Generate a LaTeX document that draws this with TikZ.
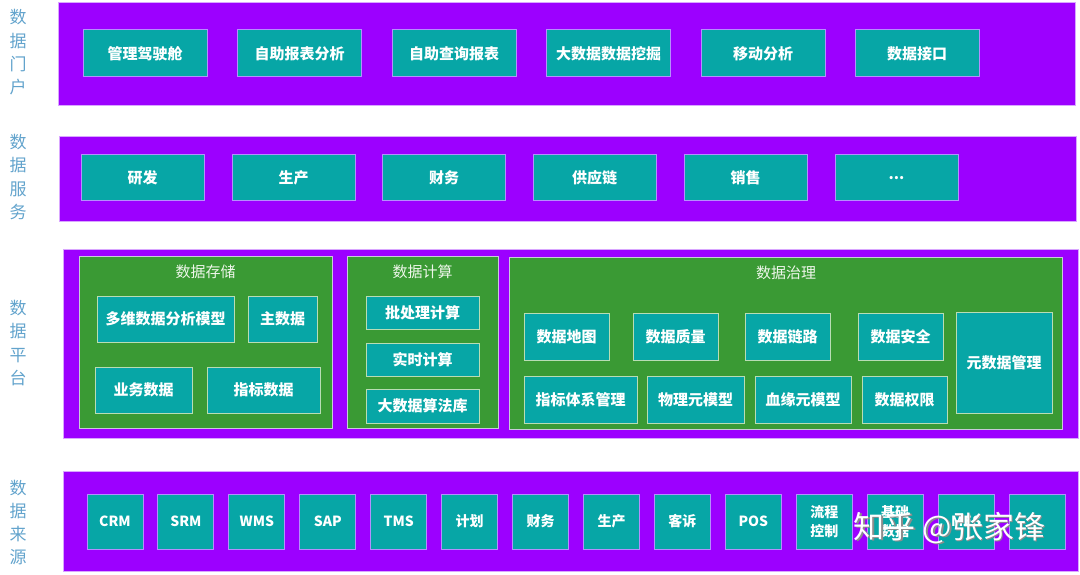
\documentclass[tikz,border=0pt]{standalone}
\usepackage{fontspec}
\setmainfont{Noto Sans CJK SC}
\definecolor{bandviolet}{HTML}{9C00FF}
\definecolor{bandedge}{HTML}{D9A6FF}
\definecolor{panelgreen}{HTML}{3A9A34}
\definecolor{paneledge}{HTML}{C9C9DA}
\definecolor{cellteal}{HTML}{07A6A6}
\definecolor{celledge}{HTML}{B58EFF}
\definecolor{greenedge}{HTML}{B9DDB4}
\definecolor{sideblue}{HTML}{62A3CC}
\definecolor{titlewhite}{HTML}{EEF6EA}
\tikzset{
	band/.style={fill=bandviolet, draw=bandedge, line width=0.8pt},
	panel/.style={fill=panelgreen, draw=paneledge, line width=1pt},
	cell/.style={fill=cellteal, draw=celledge, line width=1pt, text=white, inner sep=0pt, align=center, font=\bfseries\fontsize{15}{18}\selectfont},
	portalcell/.style={cell, minimum width=124, minimum height=47},
	servicecell/.style={cell, minimum width=123, minimum height=46},
	greencell/.style={cell, draw=greenedge},
	srccell/.style={cell, minimum width=56, minimum height=55, font=\bfseries\fontsize{14}{19}\selectfont},
	side/.style={text=sideblue, align=center, font=\fontsize{17}{23.3}\selectfont},
	paneltitle/.style={text=titlewhite, font=\fontsize{15}{18}\selectfont},
	wmark/.style={font=\fontsize{31}{34}\selectfont}
}
\begin{document}
\begin{tikzpicture}[x=1pt, y=-1pt]
	\useasboundingbox (0,0) rectangle (1080,575);
	
	\node[side] (lportal) at (18,52.5) {数\\据\\门\\户};
	\node[side] (lservice) at (18,177) {数\\据\\服\\务};
	\node[side] (lplatform) at (18,343) {数\\据\\平\\台};
	\node[side] (lsource) at (18,522.5) {数\\据\\来\\源};
	
	\filldraw[band] (58,2) rectangle (1075,105);
	\filldraw[band] (59,136) rectangle (1076,221);
	\filldraw[band] (63,249) rectangle (1078,438);
	\filldraw[band] (63,471) rectangle (1078,571);
	
	\node[portalcell] (cockpit) at (145,53.5) {管理驾驶舱};
	\node[portalcell] (selfrep) at (299.5,53.5) {自助报表分析};
	\node[portalcell] (selfquery) at (454,53.5) {自助查询报表};
	\node[portalcell] (mining) at (608.5,53.5) {大数据数据挖掘};
	\node[portalcell] (mobile) at (763,53.5) {移动分析};
	\node[portalcell] (api) at (917,53.5) {数据接口};
	
	\node[servicecell] (rnd) at (142.5,178) {研发};
	\node[servicecell] (prod) at (293.5,178) {生产};
	\node[servicecell] (fin) at (444,178) {财务};
	\node[servicecell] (supply) at (594.5,178) {供应链};
	\node[servicecell] (sales) at (745.5,178) {销售};
	\node[servicecell] (more) at (896.5,178) {...};
	
	\filldraw[panel] (79,256) rectangle (332,428);
	\filldraw[panel] (347,256) rectangle (498,428);
	\filldraw[panel] (509,257) rectangle (1062,429);
	\node[paneltitle] (tstore) at (205.5,272) {数据存储};
	\node[paneltitle] (tcalc) at (422.5,272) {数据计算};
	\node[paneltitle] (tgov) at (786,273) {数据治理};
	
	\node[greencell, minimum width=137, minimum height=46] (olap) at (165.5,319) {多维数据分析模型};
	\node[greencell, minimum width=69, minimum height=46] (master) at (282.5,319) {主数据};
	\node[greencell, minimum width=97, minimum height=46] (bizdata) at (143.5,390) {业务数据};
	\node[greencell, minimum width=113, minimum height=46] (kpidata) at (263.5,390) {指标数据};
	
	\node[greencell, minimum width=113, minimum height=33] (batch) at (422.5,312.5) {批处理计算};
	\node[greencell, minimum width=113, minimum height=33] (realtime) at (422.5,359.5) {实时计算};
	\node[greencell, minimum width=113, minimum height=34] (algo) at (422.5,406) {大数据算法库};
	
	\node[greencell, minimum width=85, minimum height=47] (dmap) at (566.5,336.5) {数据地图};
	\node[greencell, minimum width=85, minimum height=47] (quality) at (675.5,336.5) {数据质量};
	\node[greencell, minimum width=85, minimum height=47] (lineage) at (787.5,336.5) {数据链路};
	\node[greencell, minimum width=85, minimum height=47] (security) at (900.5,336.5) {数据安全};
	\node[greencell, minimum width=113, minimum height=47] (kpisys) at (580.5,399.5) {指标体系管理};
	\node[greencell, minimum width=97, minimum height=47] (physmeta) at (695.5,399.5) {物理元模型};
	\node[greencell, minimum width=96, minimum height=47] (bloodmeta) at (803,399.5) {血缘元模型};
	\node[greencell, minimum width=85, minimum height=47] (rights) at (904.5,399.5) {数据权限};
	\node[greencell, minimum width=96, minimum height=101] (metamgr) at (1004,362.5) {元数据管理};
	
	\node[srccell] (crm) at (115,521.5) {CRM};
	\node[srccell] (srm) at (185.9,521.5) {SRM};
	\node[srccell] (wms) at (256.9,521.5) {WMS};
	\node[srccell] (sap) at (327.8,521.5) {SAP};
	\node[srccell] (tms) at (398.7,521.5) {TMS};
	\node[srccell] (plan) at (469.6,521.5) {计划};
	\node[srccell] (srcfin) at (540.6,521.5) {财务};
	\node[srccell] (srcprod) at (611.5,521.5) {生产};
	\node[srccell] (complaint) at (682.4,521.5) {客诉};
	\node[srccell] (pos) at (753.4,521.5) {POS};
	\node[srccell] (flow) at (824.3,521.5) {流程\\控制};
	\node[srccell] (basic) at (895.2,521.5) {基础\\数据};
	\node[srccell] (mes) at (966.2,521.5) {MES};
	\node[srccell] (blank) at (1037.1,521.5) {};
	
	\node[wmark, text=black!45] (markshadow) at (951,529.5) {知乎 @张家锋};
	\node[wmark, text=white] (zhmark) at (949.5,528) {知乎 @张家锋};
\end{tikzpicture}
\end{document}
